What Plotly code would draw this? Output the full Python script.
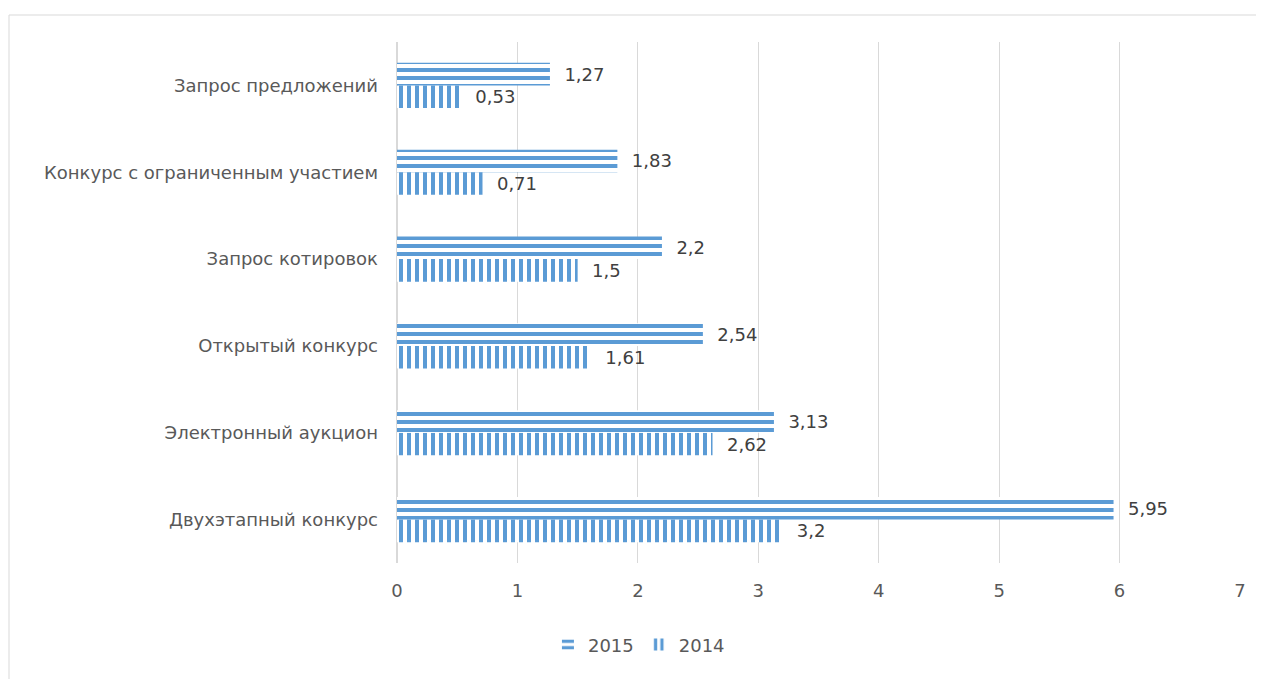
import plotly.graph_objects as go

categories = ["Двухэтапный конкурс", "Электронный аукцион", "Открытый конкурс",
              "Запрос котировок", "Конкурс с ограниченным участием", "Запрос предложений"]
values_2015 = [5.95, 3.13, 2.54, 2.2, 1.83, 1.27]
values_2014 = [3.2, 2.62, 1.61, 1.5, 0.71, 0.53]
x_ticks = [0, 1, 2, 3, 4, 5, 6, 7]

BLUE = "#5b9bd5"
FONT = "DejaVu Sans, Verdana, sans-serif"

def fmt(v):
    return "  " + ("%g" % v).replace(".", ",")

# page body has 8px default margin; compute layout in figure pixels
L, T = 389, 34
PW, PH = 843, 521
W, H = 1264, 679

fig = go.Figure()
fig.add_trace(go.Bar(
    y=categories, x=values_2014, name="2014", orientation="h",
    marker=dict(color=BLUE, line=dict(width=0),
                pattern=dict(shape="|", size=8, solidity=0.5, fgcolor=BLUE,
                             bgcolor="white", fgopacity=1)),
    text=[fmt(v) for v in values_2014], textposition="outside",
    textfont=dict(color="#404040", size=18, family=FONT), cliponaxis=False,
))
fig.add_trace(go.Bar(
    y=categories, x=values_2015, name="2015", orientation="h",
    marker=dict(color=BLUE, line=dict(width=0),
                pattern=dict(shape="-", size=8, solidity=0.5, fgcolor=BLUE,
                             bgcolor="white", fgopacity=1)),
    text=[fmt(v) for v in values_2015], textposition="outside",
    textfont=dict(color="#404040", size=18, family=FONT), cliponaxis=False,
))

fig.update_layout(
    width=W, height=H,
    margin=dict(l=L, r=W - L - PW, t=T, b=H - T - PH),
    paper_bgcolor="white", plot_bgcolor="white",
    barmode="group", bargap=0.48, bargroupgap=0,
    font=dict(family=FONT, color="#595959", size=18),
    showlegend=True,
    legend=dict(orientation="h", traceorder="reversed", x=0.287, xanchor="center",
                y=-0.157, yanchor="middle", font=dict(size=18, color="#595959")),
    xaxis=dict(range=[0, 7], tickvals=x_ticks, showgrid=True, gridcolor="#d9d9d9",
               gridwidth=1, zeroline=True, zerolinecolor="#d9d9d9", showline=False,
               ticklabelstandoff=15, fixedrange=True),
    yaxis=dict(categoryorder="array", categoryarray=categories, showgrid=False,
               zeroline=False, showline=False, ticklabelstandoff=18),
    shapes=[dict(type="rect", xref="paper", yref="paper",
                 x0=(1 - L) / PW, x1=(W + 40 - L) / PW,
                 y0=(T + PH - H - 40) / PH, y1=(T + PH - 7) / PH,
                 line=dict(color="#d9d9d9", width=1), fillcolor="rgba(0,0,0,0)", layer="below")],
)

fig.write_html("out.html")
